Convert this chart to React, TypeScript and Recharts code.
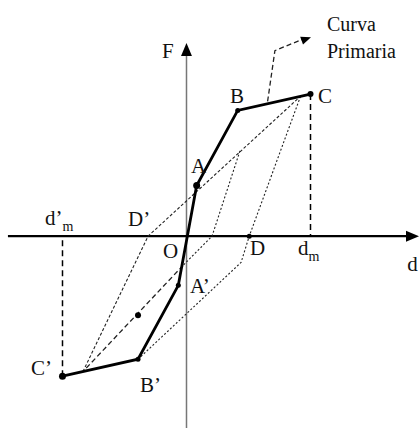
import React from 'react';
import { ComposedChart, Line, Scatter, XAxis, YAxis } from 'recharts';

// schematic units: d_m = 10, F at C = 10
const primaryCurve = [
  { x: -10, y: -9.85 }, // C'
  { x: -3.91, y: -8.66 }, // B'
  { x: -0.66, y: -3.46 }, // A'
  { x: 0.82, y: 3.56 }, // A
  { x: 4.13, y: 8.85 }, // B
  { x: 10, y: 10 }, // C
];

const unloadFromC = [
  { x: 9.2, y: 9.85 },
  { x: 5.06, y: 0 }, // D
  { x: 4.4, y: -1.85 },
  { x: -3.91, y: -8.66 }, // B'
];

const reloadToC = [
  { x: -8.35, y: -9.53 },
  { x: -3.1, y: 0 }, // D'
  { x: 9.2, y: 9.85 },
];

const innerUnload = [
  { x: 4.31, y: 6.0 },
  { x: 2.06, y: 0 },
  { x: -0.28, y: -2.06 },
];

const innerToCPrime = [
  { x: -0.28, y: -2.06 },
  { x: -8.35, y: -9.53 },
];

const dmDrop = [
  { x: 10, y: 10 },
  { x: 10, y: 0 },
];

const dmPrimeDrop = [
  { x: -10, y: -9.85 },
  { x: -10, y: 0 },
];

const curvaPointer = [
  { x: 6.54, y: 9.48 },
  { x: 7.13, y: 13.06 },
  { x: 9.5, y: 13.9 },
];

const forceAxis = [
  { x: 0, y: -13.5 },
  { x: 0, y: 13.0 },
];

const dispAxis = [
  { x: -14.4, y: 0 },
  { x: 18.2, y: 0 },
];

const nodes = [
  { x: 10, y: 10, r: 3 },
  { x: 4.13, y: 8.85, r: 2.5 },
  { x: 0.82, y: 3.56, r: 3.5 },
  { x: -0.66, y: -3.46, r: 2.5 },
  { x: 5.06, y: 0, r: 2.5 },
  { x: -3.91, y: -8.66, r: 2.5 },
  { x: -3.91, y: -5.57, r: 3 },
  { x: -10, y: -9.85, r: 3.5 },
];

const arrowTips = [
  { x: 0, y: 13.6, heading: -90, size: 13 },
  { x: 18.75, y: 0, heading: 0, size: 13 },
  { x: 10.04, y: 14.0, heading: -20, size: 10 },
];

const labels = [
  { x: -1.98, y: 12.55, text: 'F' },
  { x: 3.51, y: 9.39, text: 'B' },
  { x: 10.6, y: 9.39, text: 'C' },
  { x: 0.36, y: 4.47, text: 'A' },
  { x: -4.72, y: 0.75, text: 'D’' },
  { x: -11.41, y: 0.82, text: 'd’', sub: 'm' },
  { x: -1.9, y: -1.57, text: 'O' },
  { x: 5.12, y: -1.36, text: 'D' },
  { x: 8.99, y: -1.36, text: 'd', sub: 'm' },
  { x: 0.28, y: -4.02, text: 'A’' },
  { x: -12.54, y: -9.74, text: 'C’' },
  { x: -3.75, y: -10.98, text: 'B’' },
  { x: 17.8, y: -2.48, text: 'd' },
  { x: 11.33, y: 14.45, text: 'Curva', small: true },
  { x: 11.33, y: 12.55, text: 'Primaria', small: true },
];

const renderNode = (props: any) => {
  const { cx, cy, payload } = props;
  return <circle cx={cx} cy={cy} r={payload.r} fill="#000" />;
};

const renderArrow = (props: any) => {
  const { cx, cy, payload } = props;
  const s = payload.size;
  const w = s * 0.42;
  return (
    <polygon
      points={`0,0 ${-s},${-w} ${-s},${w}`}
      transform={`translate(${cx},${cy}) rotate(${payload.heading})`}
      fill="#000"
    />
  );
};

const renderLabel = (props: any) => {
  const { cx, cy, payload } = props;
  return (
    <text
      x={cx}
      y={cy}
      fill="#111"
      fontFamily="'Liberation Serif', 'Times New Roman', serif"
      fontSize={payload.small ? 20 : 21}
    >
      {payload.text}
      {payload.sub && (
        <tspan fontSize={14} dy={6}>
          {payload.sub}
        </tspan>
      )}
    </text>
  );
};

const thin = { dot: false, activeDot: false, isAnimationActive: false } as const;

const App: React.FC = () => {
  return (
    <div style={{ position: 'absolute', left: 0, top: 0, background: '#fff' }}>
      <ComposedChart width={419} height={428} margin={{ top: 0, right: 0, bottom: 0, left: 0 }}>
        <XAxis type="number" dataKey="x" domain={[-15.04, 18.75]} hide />
        <YAxis type="number" dataKey="y" domain={[-13.43, 16.62]} hide />

        <Line data={forceAxis} dataKey="y" stroke="#777" strokeWidth={1.5} {...thin} />
        <Line data={dispAxis} dataKey="y" stroke="#000" strokeWidth={2.2} {...thin} />

        <Line data={dmDrop} dataKey="y" stroke="#000" strokeWidth={1.5} strokeDasharray="6 4" {...thin} />
        <Line data={dmPrimeDrop} dataKey="y" stroke="#000" strokeWidth={1.5} strokeDasharray="6 4" {...thin} />

        <Line data={unloadFromC} dataKey="y" stroke="#222" strokeWidth={1.1} strokeDasharray="2 2" {...thin} />
        <Line data={reloadToC} dataKey="y" stroke="#222" strokeWidth={1.1} strokeDasharray="3 2" {...thin} />
        <Line data={innerUnload} dataKey="y" stroke="#222" strokeWidth={1.1} strokeDasharray="2 2" {...thin} />
        <Line data={innerToCPrime} dataKey="y" stroke="#222" strokeWidth={1.3} strokeDasharray="5 3" {...thin} />
        <Line data={curvaPointer} dataKey="y" stroke="#222" strokeWidth={1.3} strokeDasharray="5 3" {...thin} />

        <Line data={primaryCurve} dataKey="y" stroke="#000" strokeWidth={2.8} {...thin} />

        <Scatter data={nodes} shape={renderNode} isAnimationActive={false} />
        <Scatter data={arrowTips} shape={renderArrow} isAnimationActive={false} />
        <Scatter data={labels} shape={renderLabel} isAnimationActive={false} />
      </ComposedChart>
    </div>
  );
};

export default App;
